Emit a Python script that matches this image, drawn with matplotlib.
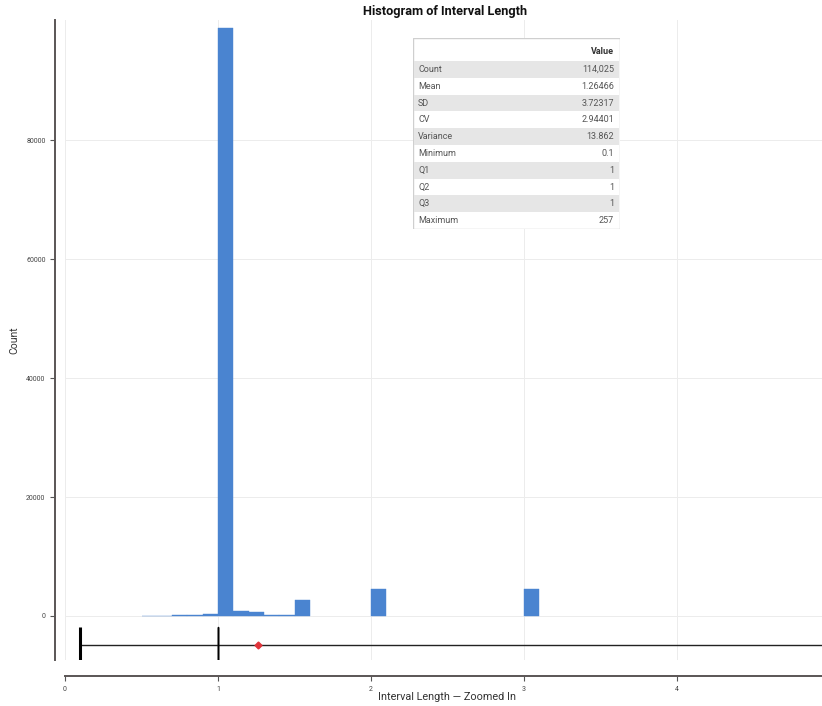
import matplotlib
matplotlib.use('Agg')
import matplotlib.pyplot as plt
from matplotlib.patches import Rectangle

# histogram bins (left edge) and counts, bin width 0.1
bin_left = [0.5, 0.6, 0.7, 0.8, 0.9, 1.0, 1.1, 1.2, 1.3, 1.4, 1.5, 2.0, 3.0]
counts = [60, 80, 100, 200, 300, 98800, 900, 700, 200, 150, 2700, 4500, 4500]
bin_width = 0.1

# summary stats
stat_names = ['Count', 'Mean', 'SD', 'CV', 'Variance', 'Minimum', 'Q1', 'Q2', 'Q3', 'Maximum']
stat_values = ['114,025', '1.26466', '3.72317', '2.94401', '13.862', '0.1', '1', '1', '1', '257']
v_min, v_q1, v_med, v_q3, v_max, v_mean = 0.1, 1, 1, 1, 257, 1.26466

yticks = [0, 20000, 40000, 60000, 80000]
xticks = [0, 1, 2, 3, 4]

plt.rcParams['font.family'] = ['Roboto', 'DejaVu Sans']

W, H = 822, 706
fig = plt.figure(figsize=(W / 100, H / 100), dpi=100)
ax = fig.add_axes([65 / W, 1 - 660 / H, (W - 65) / W, 640 / H])

ax.bar(bin_left, counts, width=bin_width, align='edge', color='#4a84d0',
       edgecolor='#4a84d0', linewidth=0.3, zorder=3)

# boxplot below zero
stats = [dict(whislo=v_min, q1=v_q1, med=v_med, q3=v_q3, whishi=v_max, mean=v_mean, fliers=[])]
ax.bxp(stats, positions=[-4900], widths=6000, orientation='horizontal',
       showmeans=True, showcaps=False,
       boxprops=dict(color='black', linewidth=1.0),
       medianprops=dict(color='black', linewidth=1.0),
       whiskerprops=dict(color='#222222', linewidth=1.0),
       meanprops=dict(marker='D', markerfacecolor='#e0343a', markeredgecolor='#e0343a',
                      markersize=3.5), manage_ticks=False)
ax.vlines(v_min, -4900 - 3000, -4900 + 3000, color='black', linewidth=2.2, zorder=4)

ax.set_xlim(0, (W - 65) / 153)
ax.set_ylim(-7400, 100200)
ax.set_xticks(xticks)
ax.set_yticks(yticks)
ax.set_xticklabels([str(x) for x in xticks])
ax.set_yticklabels([str(y) for y in yticks])
ax.tick_params(labelsize=5, colors='#555555', length=3.5, width=0.8, labelcolor='#444444')
ax.grid(True, color='#ececec', linewidth=0.7, zorder=0)
ax.set_axisbelow(True)

for s in ['top', 'right']:
    ax.spines[s].set_visible(False)
ax.spines['left'].set_position(('outward', 7))
ax.spines['bottom'].set_position(('outward', 11.5))
for s in ['left', 'bottom']:
    ax.spines[s].set_color('#5a5555')
    ax.spines[s].set_linewidth(1.4)

ax.set_ylabel('Count', fontsize=7.5, color='#333333')
ax.set_xlabel('Interval Length — Zoomed In', fontsize=7.8, color='#333333')
ax.xaxis.set_label_coords((447 - 65) / (W - 65), -(697 - 660) / 640)
ax.xaxis.label.set_va('center')
ax.yaxis.set_label_coords(-(65 - 14) / (W - 65), (660 - 340) / 640)
ax.yaxis.label.set_va('center')

fig.text(445 / W, 1 - 12 / H, 'Histogram of Interval Length', ha='center', va='center',
         fontsize=9.2, fontweight='bold', color='#111111')

# stats table
tx0, tx1, ty0 = 413, 620, 38
head_h, row_h = 23, 16.8
total_h = head_h + row_h * len(stat_names)
tab = fig.add_axes([tx0 / W, 1 - (ty0 + total_h) / H, (tx1 - tx0) / W, total_h / H])
tab.set_xlim(tx0, tx1)
tab.set_ylim(ty0 + total_h, ty0)
tab.axis('off')
tab.add_patch(Rectangle((tx0, ty0), tx1 - tx0, total_h, facecolor='white',
                        edgecolor='#cfcfcf', linewidth=1.0))
tab.text(tx1 - 6, ty0 + head_h / 2 + 2, 'Value', ha='right', va='center',
         fontsize=6.5, fontweight='bold', color='#333333')
for i, (name, val) in enumerate(zip(stat_names, stat_values)):
    y0 = ty0 + head_h + i * row_h
    if i % 2 == 0:
        tab.add_patch(Rectangle((tx0 + 1, y0), tx1 - tx0 - 2, row_h,
                                facecolor='#e6e6e6', edgecolor='none'))
    tab.text(tx0 + 5, y0 + row_h / 2, name, ha='left', va='center',
             fontsize=6.5, color='#555555')
    tab.text(tx1 - 6, y0 + row_h / 2, val, ha='right', va='center',
             fontsize=6.5, color='#555555')

fig.savefig('out.png', dpi=100)
